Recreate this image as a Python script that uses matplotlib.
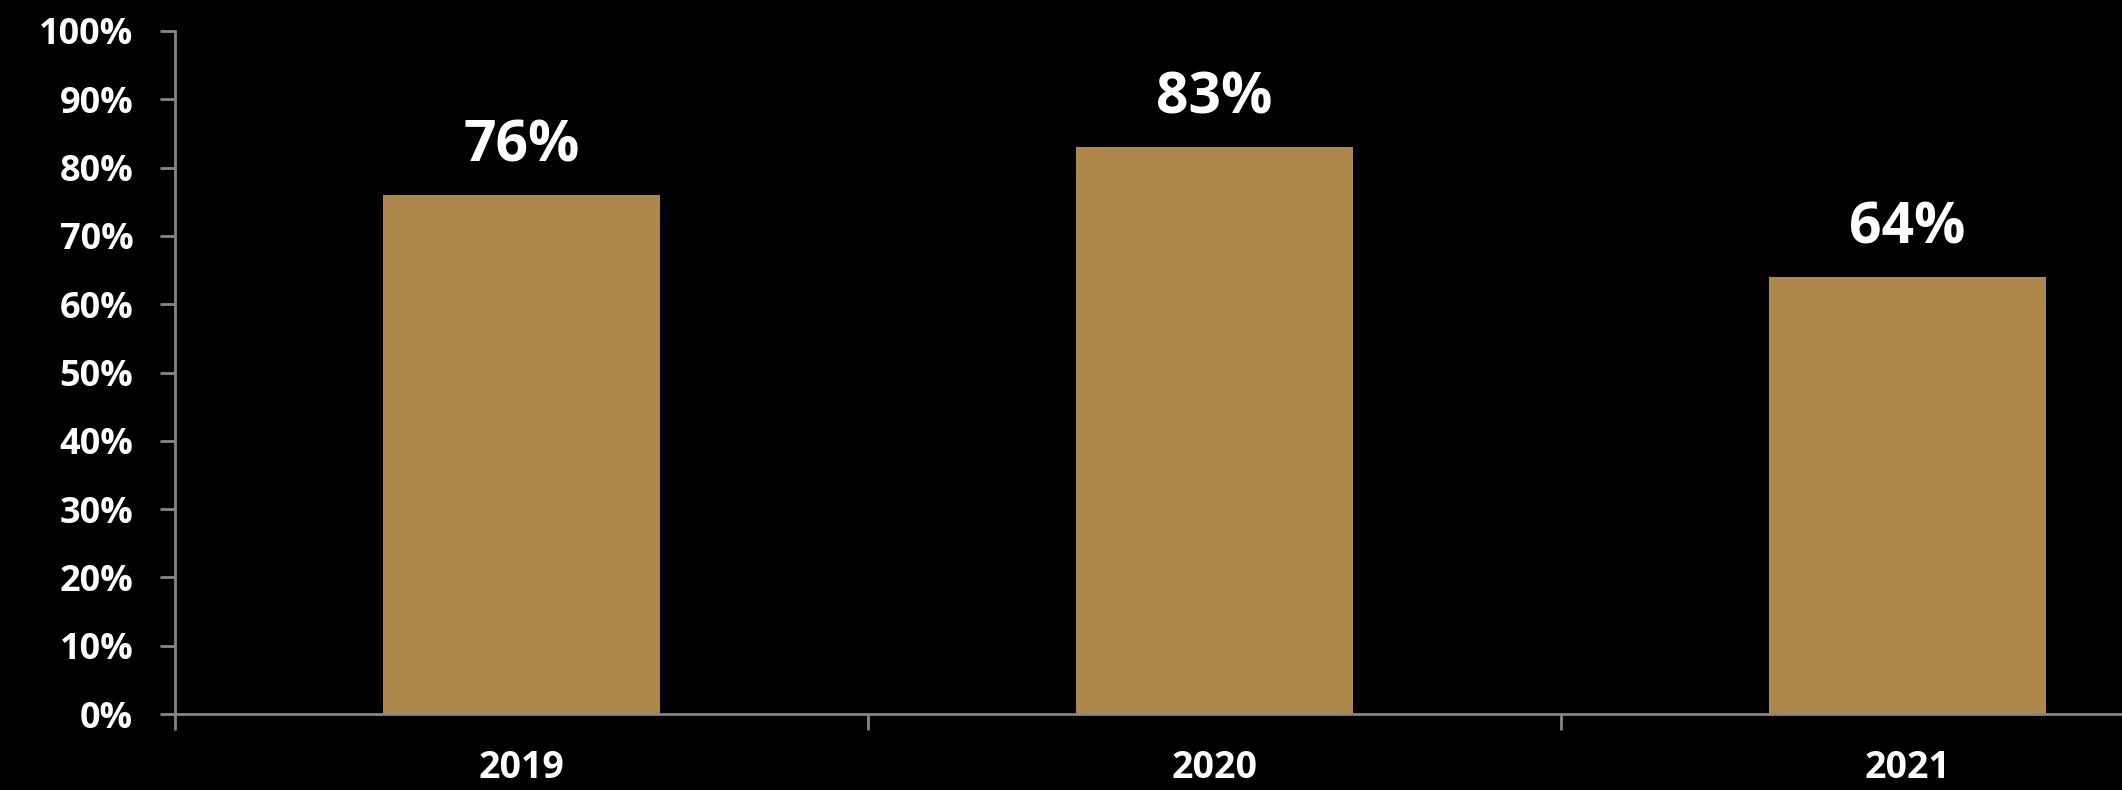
import matplotlib
matplotlib.use("Agg")
import matplotlib.pyplot as plt
from matplotlib.ticker import FixedLocator, PercentFormatter

years = ["2019", "2020", "2021"]
share = [76, 83, 64]
y_ticks = list(range(0, 101, 10))

bar_color = "#AE884B"
axis_color = "#868686"

plt.rcParams['font.family'] = ['Open Sans', 'DejaVu Sans']

fig = plt.figure(figsize=(21.22, 7.90), dpi=100, facecolor="black")
# axes runs past the right edge like in the original slide
ax = fig.add_axes([175 / 2122, 76 / 790, 2079 / 2122, 683 / 790])
ax.set_facecolor("black")

x = list(range(len(years)))
bars = ax.bar(x, share, width=0.4, color=bar_color, zorder=2)

for b, v in zip(bars, share):
    ax.annotate(f"{v}%", (b.get_x() + b.get_width() / 2, v),
                xytext=(0, 24), textcoords="offset points",
                ha="center", va="baseline", color="white",
                fontsize=41, fontweight="bold")

ax.set_xlim(-0.5, 2.5)
ax.set_ylim(0, 100)

ax.set_yticks(y_ticks)
ax.yaxis.set_major_formatter(PercentFormatter(decimals=0))
ax.tick_params(axis="y", colors=axis_color, length=11, width=2, pad=19,
               labelcolor="white", labelsize=26)
for t in ax.get_yticklabels():
    t.set_fontweight("bold")

ax.set_xticks(x)
ax.set_xticklabels(years, fontsize=27, fontweight="bold", color="white")
ax.tick_params(axis="x", which="major", length=0, pad=25)
ax.xaxis.set_minor_locator(FixedLocator([-0.5, 0.5, 1.5, 2.5]))
ax.tick_params(axis="x", which="minor", length=11.5, width=2, color=axis_color)

for side in ["top", "right"]:
    ax.spines[side].set_visible(False)
for side in ["left", "bottom"]:
    ax.spines[side].set_color(axis_color)
    ax.spines[side].set_linewidth(2)

fig.savefig("out.png", dpi=100, facecolor="black")
